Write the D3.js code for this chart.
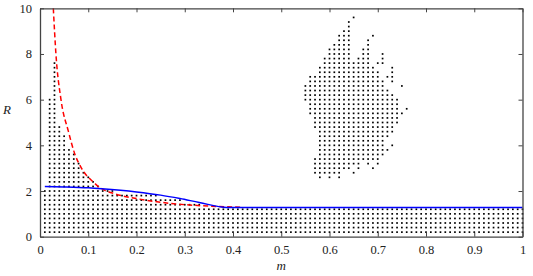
<!DOCTYPE html>
<html>
<head>
<meta charset="utf-8">
<script src="https://cdn.jsdelivr.net/npm/d3@7"></script>
<style>
  html, body { margin: 0; padding: 0; background: #fff; }
  svg { display: block; }
</style>
</head>
<body>
<svg id="chart" width="533" height="276"></svg>
<script>
// x ticks and y ticks
const mTicks = [0, 0.1, 0.2, 0.3, 0.4, 0.5, 0.6, 0.7, 0.8, 0.9, 1];
const rTicks = [0, 2, 4, 6, 8, 10];

// grid of the dot map: m = 0.01 .. 1.00, R = 0.2, 0.4, ...
const gridStepM = 0.01;
const gridStepR = 0.2;

// top dot of each column of the main region: [first column, last column, top R]
const columnTops = [
  [1, 1, 2.0], [2, 2, 6.0], [3, 3, 7.6], [4, 4, 4.8], [5, 5, 4.4],
  [6, 6, 3.8], [7, 7, 3.6], [8, 8, 3.2], [9, 9, 2.8], [10, 10, 2.6],
  [11, 11, 2.4], [12, 12, 2.2], [13, 15, 2.0], [16, 24, 1.8],
  [25, 29, 1.6], [30, 33, 1.4], [34, 100, 1.2],
];

// detached island of dots: [R, [[first column, last column], ...]]
const islandRows = [
  [9.6, [[65, 65]]],
  [9.4, [[64, 64]]],
  [9.2, [[64, 64]]],
  [9.0, [[63, 64]]],
  [8.8, [[62, 64], [69, 69]]],
  [8.6, [[62, 64], [68, 68]]],
  [8.4, [[61, 64], [68, 68]]],
  [8.2, [[60, 64], [67, 68]]],
  [8.0, [[60, 64], [67, 68], [71, 71]]],
  [7.8, [[59, 64], [66, 68], [71, 71]]],
  [7.6, [[59, 68], [70, 71]]],
  [7.4, [[58, 69], [73, 73]]],
  [7.2, [[58, 70], [73, 73]]],
  [7.0, [[56, 70], [72, 73]]],
  [6.8, [[56, 71], [73, 73]]],
  [6.6, [[55, 71], [75, 75]]],
  [6.4, [[55, 72]]],
  [6.2, [[55, 73]]],
  [6.0, [[55, 74]]],
  [5.8, [[56, 74]]],
  [5.6, [[56, 74], [76, 76]]],
  [5.4, [[56, 75]]],
  [5.2, [[57, 74]]],
  [5.0, [[57, 74]]],
  [4.8, [[57, 73]]],
  [4.6, [[58, 73]]],
  [4.4, [[58, 72]]],
  [4.2, [[58, 71]]],
  [4.0, [[58, 71], [73, 73]]],
  [3.8, [[58, 72]]],
  [3.6, [[58, 71]]],
  [3.4, [[57, 70]]],
  [3.2, [[57, 66], [68, 68], [70, 70]]],
  [3.0, [[57, 64], [66, 66], [69, 69]]],
  [2.8, [[57, 62], [65, 65]]],
  [2.6, [[58, 58], [60, 60], [62, 62]]],
];

// red dashed curve
const redM = [0.0276, 0.033, 0.0435, 0.059, 0.0725, 0.086, 0.11, 0.128, 0.153, 0.2, 0.27, 0.35, 0.42];
const redR = [10, 8, 6, 4.6, 3.6, 3.0, 2.4, 2.1, 1.89, 1.67, 1.46, 1.34, 1.29];

// blue solid curve
const blueM = [0.01, 0.05, 0.1, 0.128, 0.2, 0.25, 0.29, 0.33, 0.387, 1];
const blueR = [2.2, 2.18, 2.14, 2.1, 1.96, 1.82, 1.67, 1.5, 1.28, 1.28];

const serif = '"Liberation Serif", "DejaVu Serif", serif';

const svg = d3.select('#chart');
const margin = { top: 8.3, right: 10.5, bottom: 39.3, left: 40 };
const width = 533 - margin.left - margin.right;
const height = 276 - margin.top - margin.bottom;

const x = d3.scaleLinear().domain([0, 1]).range([0, width]);
const y = d3.scaleLinear().domain([0, 10]).range([height, 0]);

const g = svg.append('g').attr('transform', `translate(${margin.left},${margin.top})`);

// build dots
const dots = [];
columnTops.forEach(([c0, c1, topR]) => {
  for (let c = c0; c <= c1; c += 1) {
    for (let r = 1; r * gridStepR <= topR + 1e-9; r += 1) {
      dots.push([c * gridStepM, r * gridStepR]);
    }
  }
});
islandRows.forEach(([rVal, ranges]) => {
  ranges.forEach(([c0, c1]) => {
    for (let c = c0; c <= c1; c += 1) dots.push([c * gridStepM, rVal]);
  });
});

g.append('g')
  .selectAll('rect')
  .data(dots)
  .enter()
  .append('rect')
  .attr('x', (d) => x(d[0]) - 0.85)
  .attr('y', (d) => y(d[1]) - 0.85)
  .attr('width', 1.7)
  .attr('height', 1.7)
  .attr('fill', '#000');

const redLine = d3.line()
  .x((d, i) => x(redM[i]))
  .y((d, i) => y(redR[i]))
  .curve(d3.curveMonotoneX);

const blueLine = d3.line()
  .x((d, i) => x(blueM[i]))
  .y((d, i) => y(blueR[i]))
  .curve(d3.curveMonotoneX);

g.append('path')
  .attr('d', redLine(redM))
  .attr('fill', 'none')
  .attr('stroke', '#ff0000')
  .attr('stroke-width', 1.5)
  .attr('stroke-dasharray', '5,3');

g.append('path')
  .attr('d', blueLine(blueM))
  .attr('fill', 'none')
  .attr('stroke', '#0000ff')
  .attr('stroke-width', 1.5);

// axes with inward ticks on all four sides
const axisColor = '#444';
const tickLen = 4;

const axisB = g.append('g').attr('transform', `translate(0,${height})`)
  .call(d3.axisBottom(x).tickValues(mTicks).tickFormat(d3.format('')).tickSizeInner(-tickLen).tickSizeOuter(0).tickPadding(8));
const axisL = g.append('g')
  .call(d3.axisLeft(y).tickValues(rTicks).tickSizeInner(-tickLen).tickSizeOuter(0).tickPadding(8));
const axisT = g.append('g')
  .call(d3.axisTop(x).tickValues(mTicks).tickFormat('').tickSizeInner(-tickLen).tickSizeOuter(0));
const axisR = g.append('g').attr('transform', `translate(${width},0)`)
  .call(d3.axisRight(y).tickValues(rTicks).tickFormat('').tickSizeInner(-tickLen).tickSizeOuter(0));

[axisB, axisL, axisT, axisR].forEach((a) => {
  a.attr('font-family', serif).attr('font-size', 12.5);
  a.select('.domain').attr('stroke', axisColor).attr('stroke-width', 1.3);
  a.selectAll('.tick line').attr('stroke', axisColor).attr('stroke-width', 1);
  a.selectAll('.tick text').attr('fill', '#222');
});

svg.append('text')
  .attr('x', margin.left + x(0.5))
  .attr('y', 270)
  .attr('text-anchor', 'middle')
  .attr('font-family', serif)
  .attr('font-style', 'italic')
  .attr('font-size', 13)
  .attr('fill', '#222')
  .text('m');

svg.append('text')
  .attr('x', 7)
  .attr('y', 114)
  .attr('text-anchor', 'middle')
  .attr('font-family', serif)
  .attr('font-style', 'italic')
  .attr('font-size', 13)
  .attr('fill', '#222')
  .text('R');
</script>
</body>
</html>
